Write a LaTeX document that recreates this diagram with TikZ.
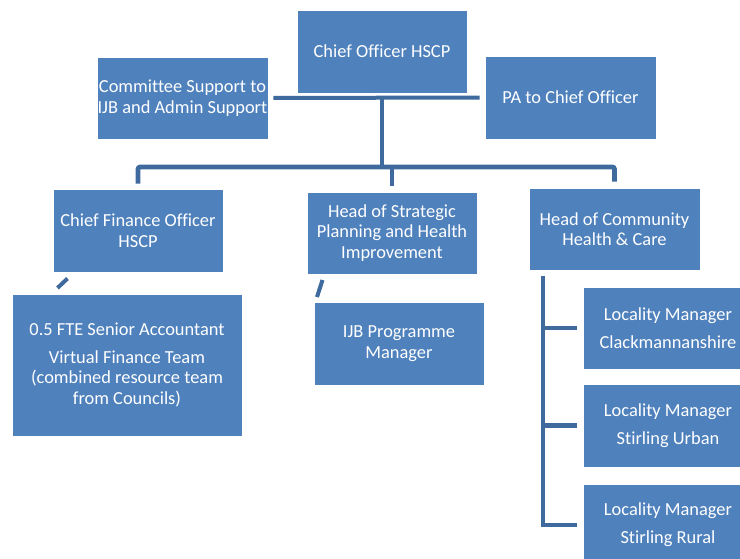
\documentclass[tikz,border=0pt]{standalone}
\usepackage{fontspec}
\setmainfont{Carlito}[Ligatures={NoCommon}]
\begin{document}
\begin{tikzpicture}[x=1pt,y=-1pt,
  box/.style={rectangle, draw=white, line width=0.8pt, fill=boxblue,
    text=white, align=center, inner sep=0pt,
    font=\fontsize{18.4}{20.5}\selectfont},
  conn/.style={draw=linkblue, line width=4.6pt}]
\definecolor{boxblue}{HTML}{4F81BD}
\definecolor{linkblue}{HTML}{3F6A9D}
\useasboundingbox (0,0) rectangle (740,559);
\begin{scope}
\clip (0,0) rectangle (740,559);

% top level
\node[box, minimum width=170pt, minimum height=83pt] (chief) at (382,51.5) {Chief Officer HSCP};
\node[box, minimum width=171pt, minimum height=82pt] (comm) at (182.5,98) {Committee Support to\\IJB and Admin Support};
\node[box, minimum width=171pt, minimum height=83pt] (pa) at (570.5,97.5) {PA to Chief Officer};

% second level
\node[box, minimum width=170pt, minimum height=83pt] (cfo) at (138,230.5) {Chief Finance Officer\\HSCP};
\node[box, minimum width=170pt, minimum height=82pt] (hsp) at (392,233) {Head of Strategic\\Planning and Health\\Improvement};
\node[box, minimum width=171pt, minimum height=82pt] (hcc) at (614.5,229) {Head of Community\\Health \& Care};

% third level
\node[box, minimum width=230pt, minimum height=142pt] (acct) at (127,365) {0.5 FTE Senior Accountant\\[7pt]Virtual Finance Team\\(combined resource team\\from Councils)};
\node[box, minimum width=170pt, minimum height=83pt] (ijb) at (399,343.5) {IJB Programme\\Manager};
\node[box, minimum width=170pt, minimum height=82pt] (loc1) at (668,328) {Locality Manager\\[7.5pt]Clackmannanshire};
\node[box, minimum width=170pt, minimum height=83pt] (loc2) at (668,425.5) {Locality Manager\\[7.5pt]Stirling Urban};
\node[box, minimum width=170pt, minimum height=82pt] (loc3) at (668,525) {Locality Manager\\[7.5pt]Stirling Rural};

% connectors
\coordinate (hub) at (382,98);
\coordinate (bar) at (382,167);
\draw[conn, line width=4pt, shorten <=5pt, shorten >=5pt] (comm.east) -- (pa.west);
\draw[conn] (hub) -- (bar);
\draw[conn, rounded corners=2pt, shorten <=5pt, shorten >=6pt] (cfo.north) |- (bar) -| (hcc.north);
\draw[conn, shorten >=6pt] (bar -| hsp.north) -- (hsp.north);

% locality branch
\coordinate (lv) at (543,276);
\draw[conn, shorten >=6pt] (lv) |- (loc3.west);
\draw[conn, shorten >=6pt] (loc1.west -| lv) -- (loc1.west);
\draw[conn, shorten >=6pt] (loc2.west -| lv) -- (loc2.west);

% broken stubs
\coordinate (s1a) at (57.5,288);
\coordinate (s1b) at (67.5,278.5);
\coordinate (s2a) at (317,297);
\coordinate (s2b) at (322.5,280);
\draw[conn, line width=4pt] (s1a) -- (s1b);
\draw[conn, line width=4pt] (s2a) -- (s2b);
\end{scope}
\end{tikzpicture}
\end{document}
